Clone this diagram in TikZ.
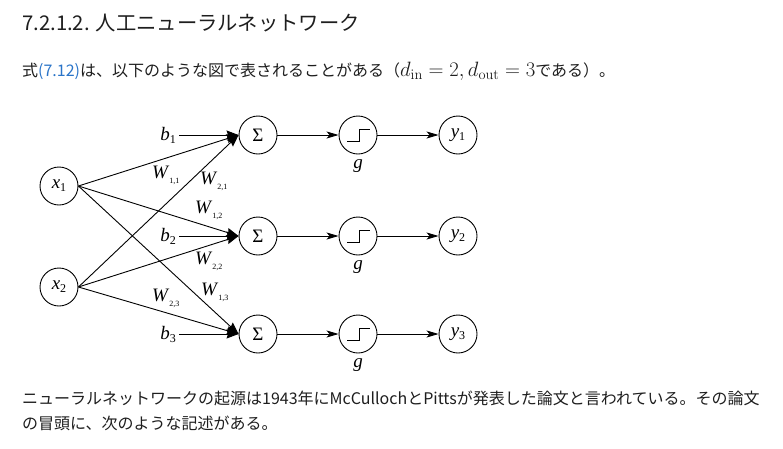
\documentclass[tikz,border=0pt]{standalone}
\usepackage[no-math]{fontspec}
\setmainfont{Noto Sans CJK JP}
\newfontfamily\tms{Liberation Serif}
\usetikzlibrary{arrows.meta}
\definecolor{txt}{HTML}{1E1E1E}
\definecolor{lnk}{HTML}{2A74C8}
\newcommand{\vsb}[2]{\textit{#1}\raisebox{-3pt}{\fontsize{12}{12}\selectfont #2}}
\newcommand{\wsb}[2]{\textit{#1}\raisebox{-5pt}{\fontsize{8}{8}\selectfont #2}}
\tikzset{
  neuron/.style={circle, draw, line width=0.9pt, minimum size=38pt, inner sep=0pt, font=\tms\fontsize{19}{19}\selectfont},
  bigarr/.style={-{Stealth[length=12pt,width=9pt,inset=1.5pt]}, line width=0.9pt},
  smallarr/.style={-{Stealth[length=12pt,width=7pt,inset=3pt]}, line width=0.9pt},
  lbl/.style={font=\tms\fontsize{19}{19}\selectfont, inner sep=0pt},
  para/.style={anchor=base west, inner sep=0pt, text=txt, font=\fontsize{16}{20}\selectfont},
}
\begin{document}
\begin{tikzpicture}[x=1pt,y=-1pt]
\useasboundingbox (0,0) rectangle (783,448);
% text
\node[para, font=\fontsize{20.3}{24}\selectfont] (head) at (22,30) {7.2.1.2. 人工ニューラルネットワーク};
\node[para] (intro) at (22,76) {式\textcolor{lnk}{(7.12)}は、以下のような図で表されることがある（{\fontsize{20.5}{22}\selectfont$d_{\mathrm{in}} = 2, d_{\mathrm{out}} = 3$}である）。};
\node[para] (p1) at (22,404) {ニューラルネットワークの起源は1943年にMcCullochとPittsが発表した論文と言われている。その論文};
\node[para] (p2) at (22,429) {の冒頭に、次のような記述がある。};
% nodes
\node[neuron] (x1) at (59,186) {\vsb{x}{1}};
\node[neuron] (x2) at (59,287) {\vsb{x}{2}};
\foreach \i/\yy in {1/135,2/236,3/334}{
  \node[neuron] (s\i) at (258,\yy) {Σ};
  \node[neuron] (g\i) at (358,\yy) {};
  \draw[line width=0.9pt] ([shift={(-11,6)}]g\i.center) -- ++(12,0) -- ++(0,-12) -- ++(11,0);
  \node[lbl] (gl\i) at (358,\yy+31) {\textit{g}};
  \node[neuron] (y\i) at (458,\yy) {\vsb{y}{\i}};
  \node[lbl, anchor=east] (b\i) at (176,\yy) {\vsb{b}{\i}};
  \draw[bigarr] (b\i.east) ++(3,0) -- (s\i.west);
  \draw[smallarr] (s\i) -- (g\i);
  \draw[smallarr] (g\i) -- (y\i);
}
\foreach \s in {1,2,3}{
  \draw[bigarr] (x1.east) -- (s\s.west);
  \draw[bigarr] (x2.east) -- (s\s.west);
}
% weight labels
\node[lbl, anchor=west] (w11) at (152,175) {\wsb{W}{1,1}};
\node[lbl, anchor=west] (w21) at (200,181) {\wsb{W}{2,1}};
\node[lbl, anchor=west] (w12) at (195,210) {\wsb{W}{1,2}};
\node[lbl, anchor=west] (w22) at (195,261) {\wsb{W}{2,2}};
\node[lbl, anchor=west] (w13) at (201,292) {\wsb{W}{1,3}};
\node[lbl, anchor=west] (w23) at (152,298) {\wsb{W}{2,3}};
\end{tikzpicture}
\end{document}
